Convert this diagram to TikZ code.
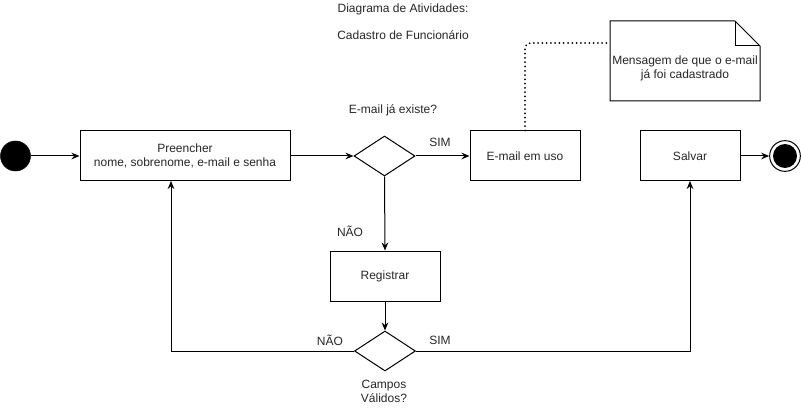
\documentclass[tikz,border=0pt]{standalone}
\usepackage{fontspec}
\setmainfont{Liberation Sans}
\usetikzlibrary{shapes.geometric,arrows.meta}
\begin{document}
\begin{tikzpicture}[x=0.75pt,y=-0.75pt,
  every node/.style={font=\fontsize{9pt}{10.5pt}\selectfont, text=black!85},
  actbox/.style={draw, line width=0.75pt, rectangle, inner sep=0pt, align=center},
  decision/.style={draw, line width=0.75pt, diamond, inner sep=0pt, minimum width=45.75pt, minimum height=30pt},
  flow/.style={line width=0.75pt, -{Stealth[length=6pt,width=5pt,inset=2pt]}},
  plain/.style={line width=0.75pt},
  lbl/.style={inner sep=0pt, align=center},
  notelink/.style={line width=1.5pt, line cap=round, dash pattern=on 0pt off 3.2pt, rounded corners=4pt}
]
\useasboundingbox (0,0) rectangle (801,410);
% titles
\node[lbl] (t1) at (403,9) {Diagrama de Atividades:};
\node[lbl] (t2) at (403,35) {Cadastro de Funcionário};
% start
\node[circle, fill=black, draw=black, minimum size=22.5pt, inner sep=0pt] (start) at (15.5,156) {};
% activities
\node[actbox, minimum width=157.5pt, minimum height=37.5pt] (pre) at (185,156) {Preencher\\nome, sobrenome, e-mail e senha};
\node[decision] (d1) at (384.5,156) {};
\node[lbl] (q1) at (393,110) {E-mail já existe?};
\node[actbox, minimum width=82.5pt, minimum height=37.5pt] (uso) at (525,156) {E-mail em uso};
\node[actbox, minimum width=82.5pt, minimum height=37.5pt] (reg) at (385,276) {Registrar};
\node[decision] (d2) at (385,351) {};
\node[lbl] (q2) at (384,391) {Campos\\Válidos?};
\node[actbox, minimum width=75pt, minimum height=37.5pt] (sal) at (690,156) {Salvar};
% end
\node[circle, draw=black, line width=0.75pt, minimum size=23pt, inner sep=0pt] (fin) at (785,156) {};
\node[circle, fill=black, minimum size=18pt, inner sep=0pt] (fincore) at (fin.center) {};
% note
\coordinate (n1) at (610,21);
\coordinate (n2) at (735,21);
\coordinate (n3) at (760,46);
\coordinate (n4) at (760,101);
\coordinate (n5) at (610,101);
\coordinate (n6) at (735,46);
\draw[plain, fill=white] (n1) -- (n2) -- (n3) -- (n4) -- (n5) -- cycle;
\draw[plain] (n2) -- (n6) -- (n3);
\node[lbl] (notetext) at (685,68) {Mensagem de que o e-mail\\já foi cadastrado};
\coordinate (notein) at (610,43);
% connectors
\draw[flow] (start) -- (pre);
\draw[flow] (pre) -- (d1);
\draw[flow] (d1.east) -- (uso.west);
\node[lbl] (sim1) at (440,142) {SIM};
\draw[flow] (d1.south) -- (reg.north);
\node[lbl] (nao1) at (350,231) {NÃO};
\draw[flow] (reg.south) -- (d2.north);
\coordinate (prein) at (171,181);
\draw[flow] (d2.west) -| (prein);
\node[lbl] (nao2) at (330,340) {NÃO};
\coordinate (salin) at (690,181);
\draw[flow] (d2.east) -| (salin);
\node[lbl] (sim2) at (440,340) {SIM};
\draw[flow] (sal.east) -- (fin.west);
\draw[notelink] (uso.north) |- (notein);
\end{tikzpicture}
\end{document}
